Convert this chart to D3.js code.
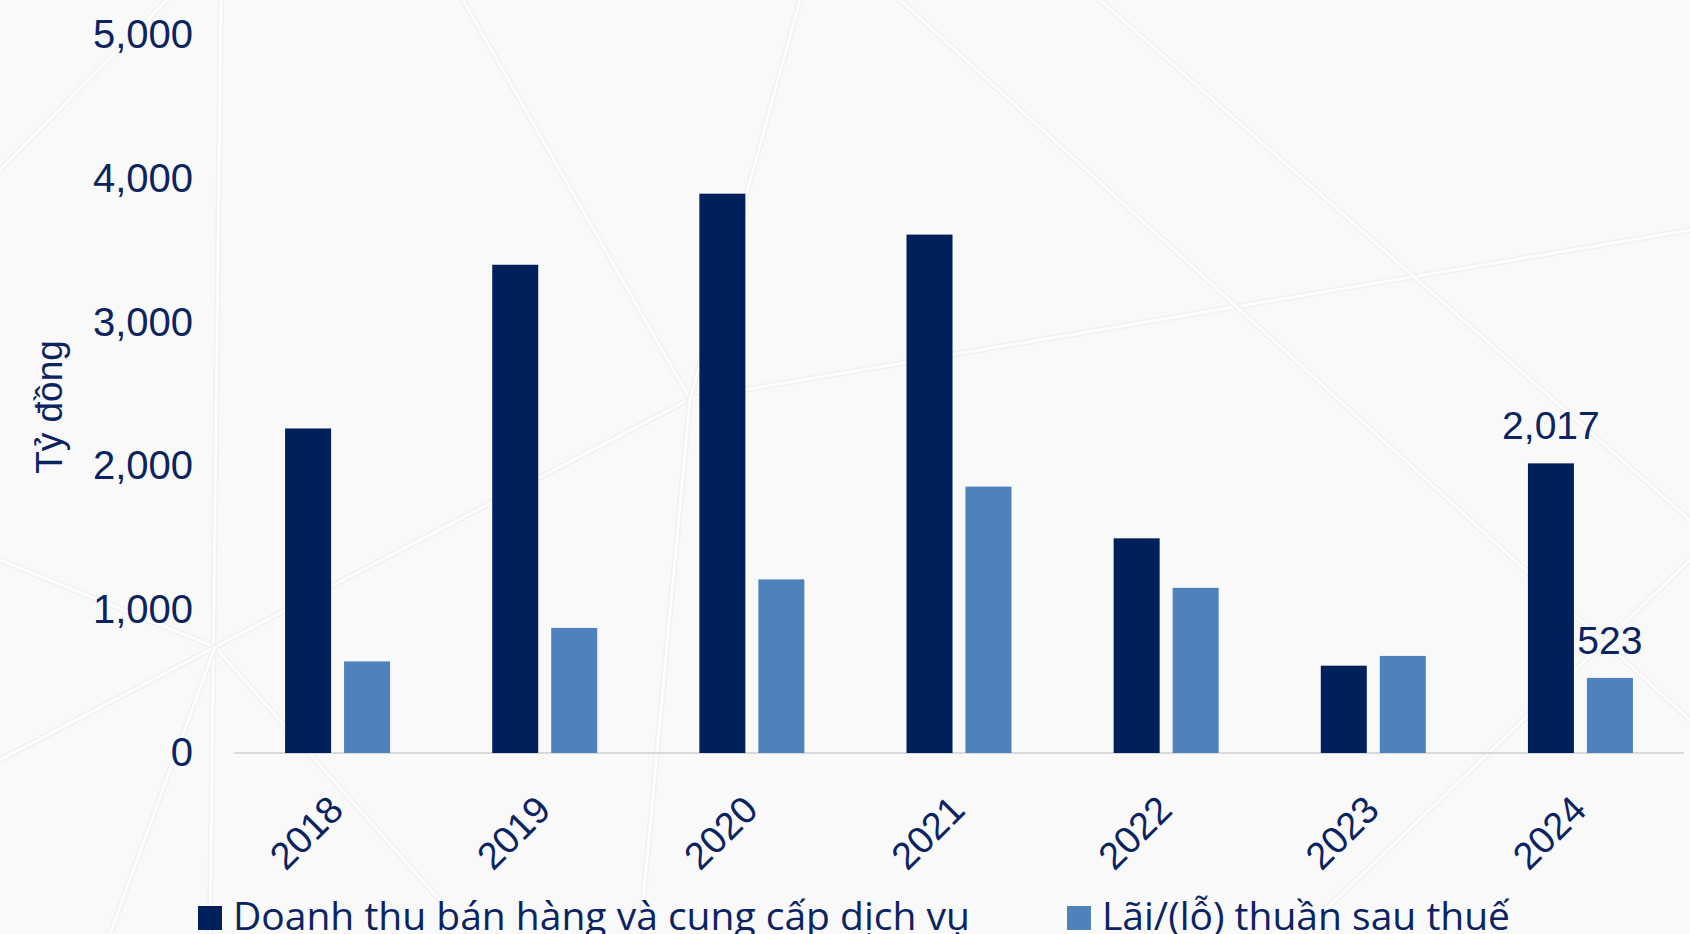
<!DOCTYPE html>
<html>
<head>
<meta charset="utf-8">
<script src="https://cdn.jsdelivr.net/npm/d3@7"></script>
<style>
  body { margin: 0; background: #f9f9f9; }
  svg { display: block; }
</style>
</head>
<body>
<svg width="1690" height="934"></svg>
<script>
// Data
const years = ["2018", "2019", "2020", "2021", "2022", "2023", "2024"];
const seriesNames = ["Doanh thu bán hàng và cung cấp dịch vụ", "Lãi/(lỗ) thuần sau thuế"];
const revenue = [2260, 3400, 3895, 3610, 1495, 608, 2017];
const profit = [638, 871, 1209, 1855, 1150, 676, 523];
const yTicks = [0, 1000, 2000, 3000, 4000, 5000];
const labelled = { "2024": true };   // only last year carries value labels

const colors = ["#00205c", "#4f81bd"];
const textColor = "#0b2461";

const svg = d3.select("svg");
const width = 1690, height = 934;

// faint background pattern
svg.append("rect").attr("width", width).attr("height", height).attr("fill", "#f9f9f9");
const deco = [
  [[221, 0], [210, 934]], [[0, 170], [167, 0]], [[215, 647], [0, 560]],
  [[215, 647], [0, 760]], [[215, 647], [690, 399]], [[215, 647], [470, 934]],
  [[215, 647], [110, 934]], [[690, 399], [463, 0]], [[690, 399], [1690, 230]],
  [[690, 399], [800, 0]], [[690, 399], [640, 934]], [[1100, 0], [1690, 520]],
  [[900, 0], [1690, 720]], [[1300, 934], [1690, 560]]
];
const bg = svg.append("g");
deco.forEach(p => {
  bg.append("line").attr("x1", p[0][0]).attr("y1", p[0][1]).attr("x2", p[1][0]).attr("y2", p[1][1])
    .attr("stroke", "#f1f1f2").attr("stroke-width", 6);
  bg.append("line").attr("x1", p[0][0]).attr("y1", p[0][1]).attr("x2", p[1][0]).attr("y2", p[1][1])
    .attr("stroke", "#fdfdfd").attr("stroke-width", 3);
});

// Scales
const x0 = d3.scaleBand().domain(years).range([234, 1684]);
const groupW = 105;
const x1 = d3.scaleBand().domain(seriesNames)
  .range([(x0.bandwidth() - groupW) / 2, (x0.bandwidth() + groupW) / 2])
  .paddingInner(0.22);
const y = d3.scaleLinear().domain([0, 5000]).range([753, 35]);

// Y axis (labels only)
const yAxis = svg.append("g")
  .attr("transform", "translate(234,0)")
  .call(d3.axisLeft(y).tickValues(yTicks).tickFormat(d3.format(",")).tickSize(0).tickPadding(41));
yAxis.select(".domain").remove();
yAxis.selectAll("text")
  .attr("fill", textColor)
  .style("font-family", "'Liberation Sans', Arial, sans-serif")
  .style("font-size", "40px");

// baseline
svg.append("line")
  .attr("x1", x0.range()[0]).attr("x2", x0.range()[1])
  .attr("y1", y(0)).attr("y2", y(0))
  .attr("stroke", "#d9d9d9").attr("stroke-width", 2);

// Bars
const rows = years.map((yr, i) => ({ year: yr, values: [revenue[i], profit[i]] }));
const groups = svg.append("g").selectAll("g").data(rows).join("g")
  .attr("transform", d => `translate(${x0(d.year)},0)`);

groups.selectAll("rect")
  .data(d => d.values.map((v, k) => ({ key: seriesNames[k], k, v, year: d.year })))
  .join("rect")
  .attr("x", d => x1(d.key))
  .attr("width", x1.bandwidth())
  .attr("y", d => y(d.v))
  .attr("height", d => y(0) - y(d.v))
  .attr("fill", d => colors[d.k]);

// Value labels for 2024
groups.filter(d => labelled[d.year]).selectAll("text.val")
  .data(d => d.values.map((v, k) => ({ key: seriesNames[k], v })))
  .join("text")
  .attr("class", "val")
  .attr("x", d => x1(d.key) + x1.bandwidth() / 2)
  .attr("y", d => y(d.v) - 24)
  .attr("text-anchor", "middle")
  .attr("fill", textColor)
  .style("font-family", "'Liberation Sans', Arial, sans-serif")
  .style("font-size", "39px")
  .text(d => d3.format(",")(d.v));

// X axis labels, rotated
svg.append("g").selectAll("text").data(years).join("text")
  .attr("transform", d => `translate(${x0(d) + x0.bandwidth() / 2 + 8},812) rotate(-45)`)
  .attr("text-anchor", "end")
  .attr("fill", textColor)
  .style("font-family", "'Liberation Sans', Arial, sans-serif")
  .style("font-size", "38px")
  .text(d => d);

// Y axis title
svg.append("text")
  .attr("transform", "translate(62,407) rotate(-90)")
  .attr("text-anchor", "middle")
  .attr("fill", textColor)
  .style("font-family", "'Liberation Sans', Arial, sans-serif")
  .style("font-size", "37px")
  .text("Tỷ đồng");

// Legend
const legendX = [198, 1067];
const legend = svg.append("g").selectAll("g").data(seriesNames).join("g")
  .attr("transform", (d, i) => `translate(${legendX[i]},906)`);
legend.append("rect")
  .attr("width", 24).attr("height", 24)
  .attr("fill", (d, i) => colors[i]);
legend.append("text")
  .attr("x", 35).attr("y", 24)
  .attr("fill", textColor)
  .style("font-family", "'Open Sans', 'Noto Sans', sans-serif")
  .style("font-size", "39px")
  .text(d => d);
</script>
</body>
</html>
